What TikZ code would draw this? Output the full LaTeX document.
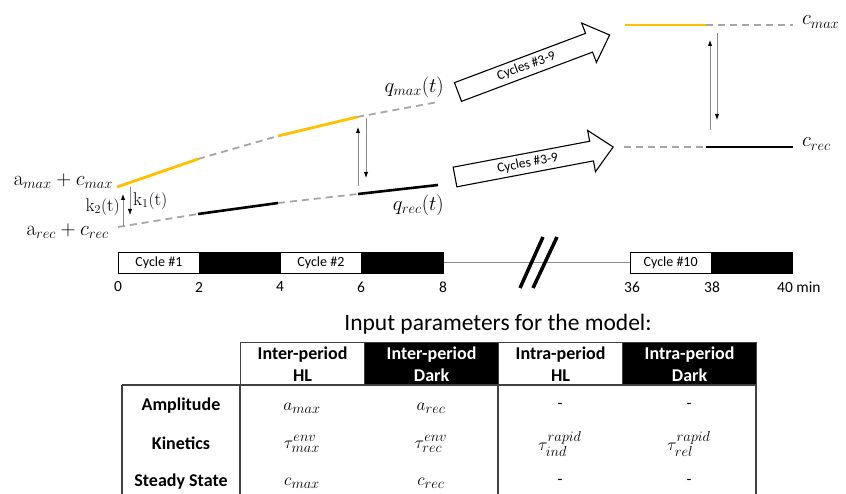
\documentclass[tikz,border=0pt]{standalone}
\usepackage{fontspec}
\newfontfamily\carlito{Carlito}
\usetikzlibrary{arrows.meta}
\definecolor{yel}{HTML}{FFC000}
\definecolor{dgray}{HTML}{A6A6A6}
\definecolor{agray}{HTML}{8C8C8C}
\definecolor{tgray}{HTML}{404040}
\tikzset{
  yline/.style={yel, line width=2.8pt},
  kline/.style={black, line width=2.6pt},
  dline/.style={dgray, line width=1.8pt, dash pattern=on 7pt off 5pt},
  sarrow/.style={draw=agray, line width=0.9pt, -{Latex[length=6pt,width=4.5pt,color=black]}},
  lbl/.style={font=\fontsize{21}{24}\selectfont, inner sep=0pt},
  klbl/.style={font=\fontsize{18.5}{22}\selectfont, inner sep=0pt},
  bigarrow/.style={draw, line width=1.1pt, fill=white, line join=miter},
  arrowtxt/.style={font=\carlito\fontsize{13.5}{15}\selectfont, inner sep=0pt},
  tcellw/.style={draw, line width=0.8pt, fill=white, minimum height=21pt, inner sep=0pt, anchor=north west,
    font=\carlito\fontsize{14}{16}\selectfont},
  tcellk/.style={tcellw, fill=black},
  tick/.style={font=\carlito\fontsize{15.5}{17}\selectfont, inner sep=0pt},
  hcellw/.style={draw=tgray, line width=1.2pt, fill=white, minimum height=43pt, inner sep=0pt, anchor=north west,
    align=center, font=\carlito\bfseries\fontsize{18}{22}\selectfont},
  hcellk/.style={hcellw, fill=black, text=white},
  rowlbl/.style={font=\carlito\bfseries\fontsize{18}{22}\selectfont, inner sep=0pt},
  val/.style={font=\fontsize{19}{22}\selectfont, inner sep=0pt},
  dashv/.style={font=\carlito\fontsize{16}{18}\selectfont, inner sep=0pt},
  tline/.style={draw=tgray, line width=1.2pt}
}
\begin{document}
\begin{tikzpicture}[x=1pt,y=-1pt]
\useasboundingbox (0,0) rectangle (846,494);
% upper curve
\coordinate (u0) at (117,187); \coordinate (u1) at (198,159); \coordinate (u2) at (278,136);
\coordinate (u3) at (357,117); \coordinate (u4) at (438,102);
\coordinate (l0) at (118,227); \coordinate (l1) at (198,214); \coordinate (l2) at (278,203);
\coordinate (l3) at (358,194); \coordinate (l4) at (438,185);
\draw[yline] (u0) -- (u1);
\draw[dline] (u1) -- (u2);
\draw[yline] (u2) -- (u3);
\draw[dline] (u3) -- (u4);
\draw[dline] (l0) -- (l1);
\draw[kline] (l1) -- (l2);
\draw[dline] (l2) -- (l3);
\draw[kline] (l3) -- (l4);
% small arrows left
\coordinate (ka0) at (123,226); \coordinate (ka1) at (123,194);
\coordinate (kb0) at (130,187); \coordinate (kb1) at (130,215);
\draw[sarrow] (ka0) -- (ka1);
\draw[sarrow] (kb0) -- (kb1);
% small arrows middle
\coordinate (ma0) at (358,186); \coordinate (ma1) at (358,127);
\coordinate (mb0) at (366,118); \coordinate (mb1) at (366,178);
\draw[sarrow] (ma0) -- (ma1);
\draw[sarrow] (mb0) -- (mb1);
% labels left
\node[lbl, anchor=east] (amax) at (113,181) {$\mathrm{a}_{max}+c_{max}$};
\node[klbl, anchor=east] (k2) at (120,207) {$\mathrm{k}_2(\mathrm{t})$};
\node[klbl, anchor=west] (k1) at (133,201) {$\mathrm{k}_1(\mathrm{t})$};
\node[lbl, anchor=east] (arec) at (109,231) {$\mathrm{a}_{rec}+c_{rec}$};
\node[lbl, anchor=east] (qmax) at (444,87) {$q_{max}(t)$};
\node[lbl, anchor=east] (qrec) at (444,205) {$q_{rec}(t)$};
% big arrow 1
\begin{scope}[shift={(458,92)}, rotate=20.6]
  \coordinate (a1p1) at (0,-10); \coordinate (a1p2) at (140,-10); \coordinate (a1p3) at (140,-21);
  \coordinate (a1p4) at (162,0); \coordinate (a1p5) at (140,21); \coordinate (a1p6) at (140,10);
  \coordinate (a1p7) at (0,10);
  \draw[bigarrow] (a1p1) -- (a1p2) -- (a1p3) -- (a1p4) -- (a1p5) -- (a1p6) -- (a1p7) -- cycle;
  \node[arrowtxt, rotate=20.6] (ba1) at (73,0) {Cycles \#3-9};
\end{scope}
% big arrow 2
\begin{scope}[shift={(455,177)}, rotate=10.75]
  \coordinate (a2p1) at (0,-10); \coordinate (a2p2) at (139,-10); \coordinate (a2p3) at (139,-21);
  \coordinate (a2p4) at (161,0); \coordinate (a2p5) at (139,21); \coordinate (a2p6) at (139,10);
  \coordinate (a2p7) at (0,10);
  \draw[bigarrow] (a2p1) -- (a2p2) -- (a2p3) -- (a2p4) -- (a2p5) -- (a2p6) -- (a2p7) -- cycle;
  \node[arrowtxt, rotate=10.75] (ba2) at (74,0) {Cycles \#3-9};
\end{scope}
% right lines
\coordinate (r0) at (625,25); \coordinate (r1) at (706,25); \coordinate (r2) at (793,25);
\coordinate (s0) at (624,147); \coordinate (s1) at (706,147); \coordinate (s2) at (793,147);
\draw[yline] (r0) -- (r1);
\draw[dline] (r1) -- (r2);
\draw[dline] (s0) -- (s1);
\draw[kline] (s1) -- (s2);
\coordinate (ra0) at (710,130); \coordinate (ra1) at (710,40);
\coordinate (rb0) at (717,33); \coordinate (rb1) at (717,120);
\draw[sarrow] (ra0) -- (ra1);
\draw[sarrow] (rb0) -- (rb1);
\node[lbl, anchor=west] (cmax) at (802,22) {$c_{max}$};
\node[lbl, anchor=west] (crec) at (802,144) {$c_{rec}$};
% timeline
\node[tcellw, minimum width=81pt] (c1) at (118,252) {Cycle \#1};
\node[tcellk, minimum width=81pt] (b1) at (199,252) {};
\node[tcellw, minimum width=81pt] (c2) at (280,252) {Cycle \#2};
\node[tcellk, minimum width=82pt] (b2) at (361,252) {};
\node[tcellw, minimum width=80.5pt] (c10) at (630,252) {Cycle \#10};
\node[tcellk, minimum width=81.5pt] (b10) at (710.5,252) {};
\draw[agray, line width=0.8pt] (b2.east) -- (c10.west);
\coordinate (sl1a) at (543,237); \coordinate (sl1b) at (520,288);
\coordinate (sl2a) at (557,237); \coordinate (sl2b) at (533,288);
\draw[black, line width=3.5pt] (sl1a) -- (sl1b);
\draw[black, line width=3.5pt] (sl2a) -- (sl2b);
\node[tick] (t0) at (118,287) {0};
\node[tick] (t2) at (199,287) {2};
\node[tick] (t4) at (280,287) {4};
\node[tick] (t6) at (361,287) {6};
\node[tick] (t8) at (443,287) {8};
\node[tick] (t36) at (632,287) {36};
\node[tick] (t38) at (712,287) {38};
\node[tick, anchor=west] (t40) at (777,287) {40 min};
% table
\node[font=\carlito\fontsize{23.5}{26}\selectfont, inner sep=0pt] (title) at (498,324) {Input parameters for the model:};
\node[hcellw, minimum width=124pt] (h1) at (240,342) {Inter-period\\HL};
\node[hcellk, minimum width=134pt] (h2) at (364,342) {Inter-period\\Dark};
\node[hcellw, minimum width=124pt] (h3) at (498,342) {Intra-period\\HL};
\node[hcellk, minimum width=134pt] (h4) at (622,342) {Intra-period\\Dark};
\coordinate (tl) at (122,385); \coordinate (tr) at (756,385);
\coordinate (bl) at (122,494); \coordinate (b240) at (240,494); \coordinate (b498) at (498,494); \coordinate (br) at (756,494);
\draw[tline] (tl) -- (tr);
\draw[tline] (tl) -- (bl);
\draw[tline] (h1.south west) -- (b240);
\draw[tline] (h3.south west) -- (b498);
\draw[tline] (tr) -- (br);
\node[rowlbl] (ramp) at (181,406) {Amplitude};
\node[rowlbl] (rkin) at (181,443) {Kinetics};
\node[rowlbl] (rss) at (181,482) {Steady State};
\node[val] (v11) at (302,408) {$a_{max}$};
\node[val] (v12) at (431,408) {$a_{rec}$};
\node[dashv] (v13) at (560,406) {-};
\node[dashv] (v14) at (689,406) {-};
\node[val] (v21) at (302,444) {$\tau^{env}_{max}$};
\node[val] (v22) at (431,444) {$\tau^{env}_{rec}$};
\node[val] (v23) at (560,444) {$\tau^{rapid}_{ind}$};
\node[val] (v24) at (689,444) {$\tau^{rapid}_{rel}$};
\node[val] (v31) at (302,483) {$c_{max}$};
\node[val] (v32) at (431,483) {$c_{rec}$};
\node[dashv] (v33) at (560,482) {-};
\node[dashv] (v34) at (689,482) {-};
\end{tikzpicture}
\end{document}
